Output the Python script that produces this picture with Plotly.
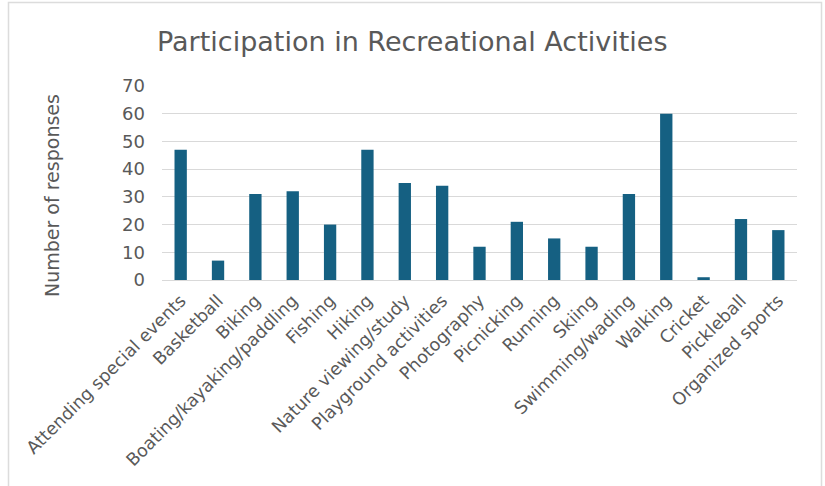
import plotly.graph_objects as go

activities = [
    "Attending special events", "Basketball", "Biking", "Boating/kayaking/paddling",
    "Fishing", "Hiking", "Nature viewing/study", "Playground activities",
    "Photography", "Picnicking", "Running", "Skiing", "Swimming/wading",
    "Walking", "Cricket", "Pickleball", "Organized sports",
]
responses = [47, 7, 31, 32, 20, 47, 35, 34, 12, 21, 15, 12, 31, 60, 1, 22, 18]
y_ticks = [0, 10, 20, 30, 40, 50, 60, 70]

W, H = 825, 486
L, R, T, B = 162, 28, 86, 206
PW, PH = W - L - R, H - T - B


def px_x(x):
    return (x - L) / PW


def px_y(y):
    return (H - B - y) / PH


TEXT = "#595959"
FONT = "DejaVu Sans"

fig = go.Figure(
    go.Bar(
        x=activities,
        y=responses,
        marker=dict(color="#156082", line=dict(width=0)),
        width=0.33,
    )
)

fig.update_layout(
    width=W,
    height=H,
    margin=dict(l=L, r=R, t=T, b=B),
    paper_bgcolor="white",
    plot_bgcolor="white",
    showlegend=False,
    font=dict(family=FONT, color=TEXT),
    xaxis=dict(
        tickangle=-45,
        tickfont=dict(size=17.5, color=TEXT),
        showgrid=False,
        showline=False,
        ticks="",
        ticklabelstandoff=6,
    ),
    yaxis=dict(
        range=[0, 70],
        tickvals=y_ticks,
        tickfont=dict(size=18, color=TEXT),
        showgrid=True,
        gridcolor="#d9d9d9",
        gridwidth=1,
        zeroline=True,
        zerolinecolor="#d9d9d9",
        zerolinewidth=1,
        showline=False,
        ticks="",
        ticklabelstandoff=16,
    ),
    annotations=[
        dict(
            text="Participation in Recreational Activities",
            xref="paper", yref="paper",
            x=px_x(412), y=px_y(42),
            xanchor="center", yanchor="middle",
            showarrow=False,
            font=dict(size=27, color=TEXT, family=FONT),
        ),
        dict(
            text="Number of responses",
            xref="paper", yref="paper",
            x=px_x(52), y=px_y(196),
            xanchor="center", yanchor="middle",
            textangle=-90,
            showarrow=False,
            font=dict(size=19, color=TEXT, family=FONT),
        ),
    ],
    shapes=[
        dict(
            type="rect", xref="paper", yref="paper",
            x0=px_x(8.5), x1=px_x(821.5), y0=px_y(495), y1=px_y(2.5),
            line=dict(color="#dcdcdc", width=1.5),
            fillcolor="rgba(0,0,0,0)",
            layer="below",
        )
    ],
)

fig.write_html("out.html")
